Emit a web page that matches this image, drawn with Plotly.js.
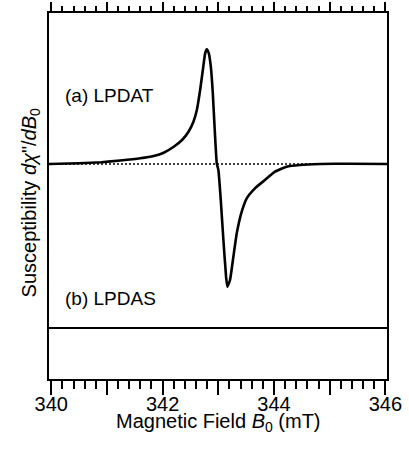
<!DOCTYPE html>
<html>
<head>
<meta charset="utf-8">
<script src="https://cdn.plot.ly/plotly-3.0.1.min.js"></script>
<style>html,body{margin:0;padding:0;background:#fff;}#plot{width:409px;height:449px;}</style>
</head>
<body>
<div id="plot"></div>
<script>
// Magnetic field (mT) and derivative signal (arbitrary units) for LPDAT
const fieldA = [339.96, 340.5, 340.9, 341.24, 341.6, 341.84, 342.02, 342.2, 342.35, 342.465, 342.554, 342.615, 342.674, 342.723, 342.764, 342.794, 342.83, 342.866, 342.902, 342.93, 342.973, 343.002, 343.045, 343.092, 343.14, 343.163, 343.211, 343.271, 343.332, 343.421, 343.511, 343.659, 343.838, 344.018, 344.227, 344.465, 344.823, 345.361, 346.03];
const signalA = [0, 0.8, 1.8, 3.5, 5.7, 8, 11.3, 17.3, 24, 32.3, 42.3, 54, 74, 94, 110.7, 114.7, 110.7, 97.3, 70.7, 40.7, 0.7, -6, -36, -76, -112.7, -122.7, -116, -92.7, -69.3, -47.7, -34.3, -24.3, -16, -7.7, -2.7, -1, 0, 0.3, 0];
// LPDAS: flat, offset below
const fieldB = [339.96, 346.03];
const signalB = [-164, -164];
// zero reference for (a)
const refX = [339.96, 346.03];
const refY = [0, 0];
const tickVals = [340, 341, 342, 343, 344, 345, 346];
const tickText = ['340', '', '342', '', '344', '', '346'];
const labelA = '(a) LPDAT';
const labelB = '(b) LPDAS';

const FONT = 'Liberation Sans, Arial, Helvetica, sans-serif';
const xr = [339.96, 346.03];

const traces = [
  {x: refX, y: refY, mode: 'lines', line: {color: '#000', width: 1.5, dash: '2px,2px'}, hoverinfo: 'skip'},
  {x: fieldA, y: signalA, mode: 'lines', line: {color: '#000', width: 2.6, shape: 'spline', smoothing: 0.4}},
  {x: fieldB, y: signalB, mode: 'lines', line: {color: '#000', width: 2.2}},
  {x: [xr[0]], y: [0], xaxis: 'x2', mode: 'markers', marker: {opacity: 0}, hoverinfo: 'skip'},
  {x: [xr[0]], y: [0], xaxis: 'x3', mode: 'markers', marker: {opacity: 0}, hoverinfo: 'skip'}
];

const layout = {
  width: 409, height: 449,
  margin: {l: 49, r: 22, t: 13, b: 70},
  paper_bgcolor: '#fff', plot_bgcolor: '#fff',
  showlegend: false,
  font: {family: FONT, color: '#000', size: 19},
  xaxis: {
    range: xr, showgrid: false, zeroline: false,
    showline: true, linewidth: 2, linecolor: '#000', mirror: true,
    ticks: 'outside', ticklen: 14, tickwidth: 2, tickcolor: '#000',
    tickvals: tickVals, showticklabels: false,
    minor: {dtick: 0.2, ticks: 'outside', ticklen: 8, tickwidth: 2, tickcolor: '#000'}
  },
  xaxis2: {
    overlaying: 'x', side: 'top', matches: 'x', range: xr,
    showgrid: false, zeroline: false, showline: false,
    ticks: 'outside', ticklen: 10, tickwidth: 2, tickcolor: '#000',
    tickvals: tickVals, showticklabels: false,
    minor: {dtick: 0.2, ticks: 'outside', ticklen: 6, tickwidth: 2, tickcolor: '#000'}
  },
  xaxis3: {
    overlaying: 'x', side: 'bottom', matches: 'x', range: xr,
    showgrid: false, zeroline: false, showline: false,
    ticks: '', tickvals: tickVals, ticktext: tickText,
    ticklabelstandoff: 11,
    tickfont: {family: FONT, size: 20, color: '#000'}
  },
  yaxis: {
    range: [-215, 151], showgrid: false, zeroline: false,
    showline: true, linewidth: 2, linecolor: '#000', mirror: true,
    ticks: '', showticklabels: false
  },
  annotations: [
    {text: labelA, x: 340.22, y: 69, xref: 'x', yref: 'y', xanchor: 'left', yanchor: 'middle', showarrow: false, font: {family: FONT, size: 19}},
    {text: labelB, x: 340.22, y: -134, xref: 'x', yref: 'y', xanchor: 'left', yanchor: 'middle', showarrow: false, font: {family: FONT, size: 19}},
    {text: 'Magnetic Field <i>B</i><sub>0</sub> (mT)', x: 0.5, y: -0.079, xref: 'paper', yref: 'paper', xanchor: 'center', yanchor: 'top', showarrow: false, font: {family: FONT, size: 20}},
    {text: 'Susceptibility <i>dχ</i>"/<i>dB</i><sub>0</sub>', x: -0.056, y: 0.48, xref: 'paper', yref: 'paper', xanchor: 'center', yanchor: 'middle', textangle: -90, showarrow: false, font: {family: FONT, size: 20}}
  ]
};

Plotly.newPlot('plot', traces, layout, {staticPlot: true, displayModeBar: false});
</script>
</body>
</html>
